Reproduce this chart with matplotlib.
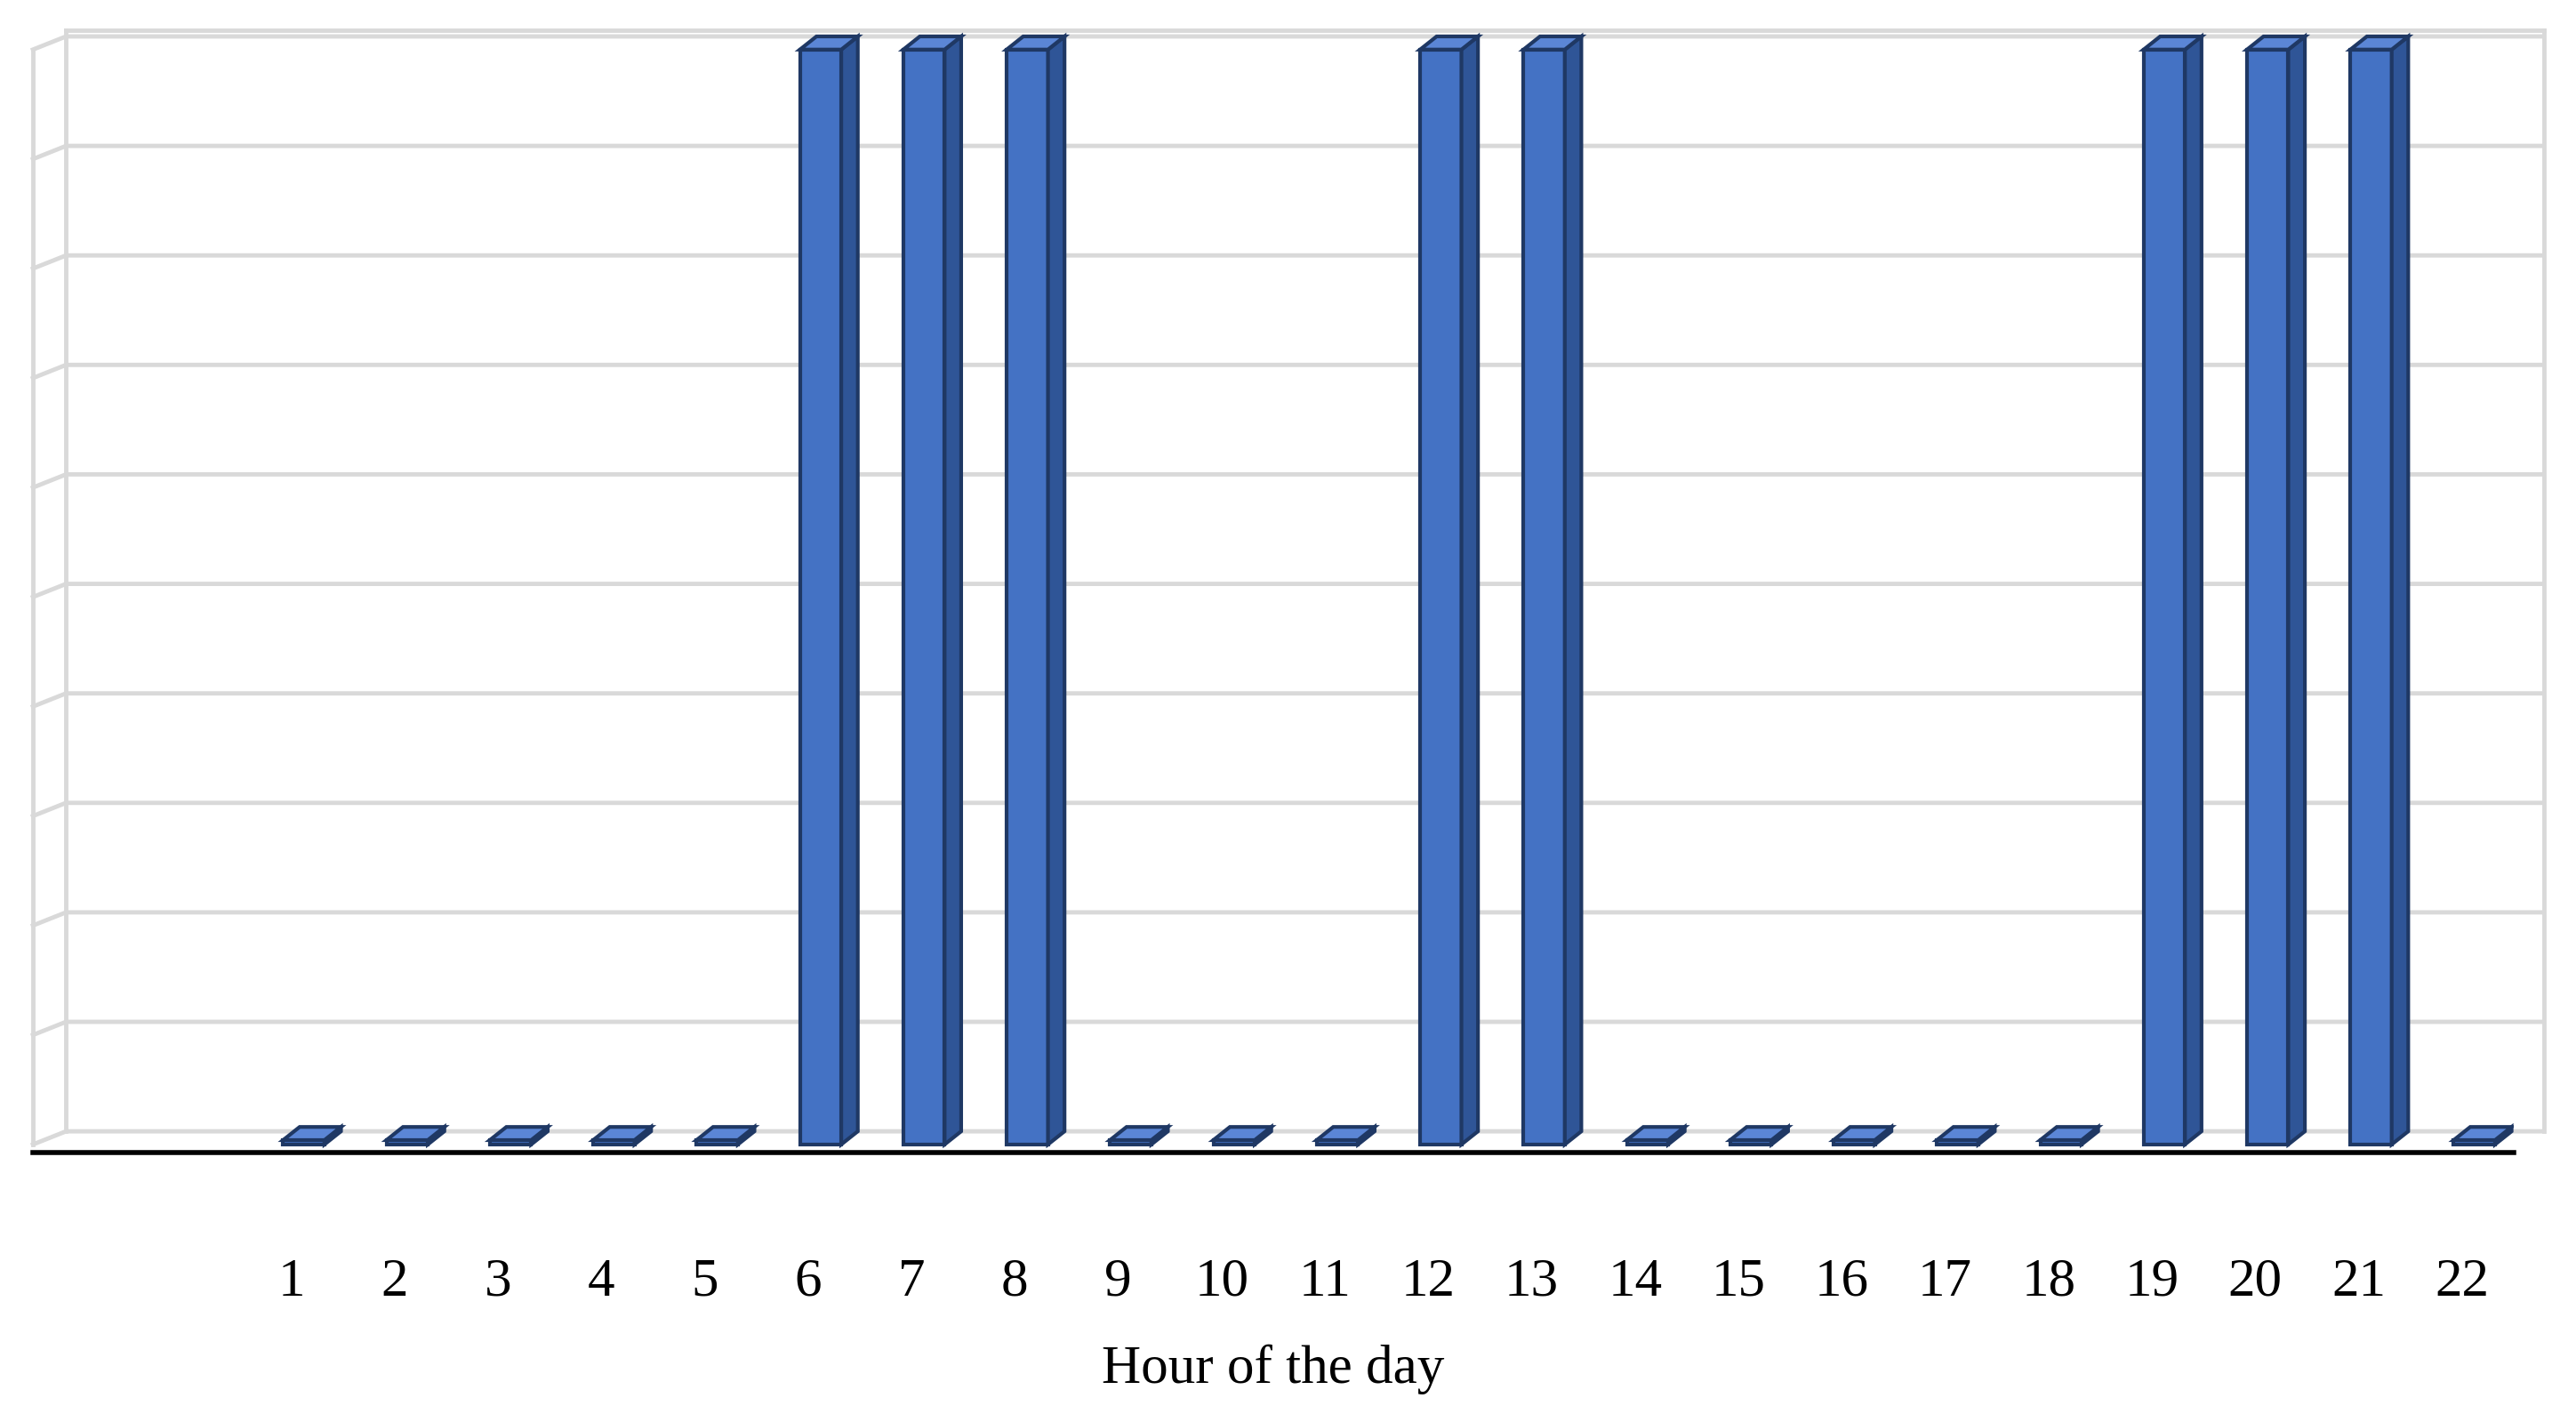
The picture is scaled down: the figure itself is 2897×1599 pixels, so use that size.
import matplotlib
matplotlib.use("Agg")
import matplotlib.pyplot as plt
from matplotlib.patches import Polygon

labels = ["", ""] + [str(h) for h in range(1, 23)]
values = [None, None, 0, 0, 0, 0, 0, 1, 1, 1, 0, 0, 0, 1, 1, 0, 0, 0, 0, 0, 1, 1, 1, 0]

fig = plt.figure(figsize=(28.97, 15.99), dpi=100)
ax = fig.add_axes([0.0128, 0.1894, 0.9630, 0.7896])
ax.set_xlim(-0.5, 23.5)
ax.set_ylim(-0.0075, 1.018)
for s in ax.spines.values():
    s.set_visible(False)
ax.set_yticks([])

dx, dy = 0.16, 0.012
gc = "#d9d9d9"
xl, xr = -0.18, 23.79
for k in range(11):
    y = k / 10
    ax.plot([-0.5, xl, xr], [y, y + dy, y + dy], color=gc, lw=3.5, clip_on=False, zorder=1)
ax.plot([xl, xl], [dy, 1.018], color=gc, lw=3.5, clip_on=False, zorder=1)
ax.plot([-0.5, -0.5], [0, 1.0], color=gc, lw=3.5, clip_on=False, zorder=1)
ax.plot([xr, xr], [dy, 1.018], color=gc, lw=3.5, clip_on=False, zorder=1)
ax.plot([xl, xr], [1.018, 1.018], color=gc, lw=3.5, clip_on=False, zorder=1)

face, edge, side, top = "#4472C4", "#1F3864", "#2F5597", "#5B86D6"
for i, v in enumerate(values):
    if v is None:
        continue
    h = max(v, 0.004)
    x0, x1 = i - 0.08, i + 0.32
    ax.add_patch(Polygon([(x0, 0), (x1, 0), (x1, h), (x0, h)], closed=True,
                         fc=face, ec=edge, lw=3, zorder=3))
    ax.add_patch(Polygon([(x1, 0), (x1 + dx, dy), (x1 + dx, h + dy), (x1, h)], closed=True,
                         fc=side, ec=edge, lw=3, zorder=3))
    ax.add_patch(Polygon([(x0, h), (x1, h), (x1 + dx, h + dy), (x0 + dx, h + dy)], closed=True,
                         fc=top, ec=edge, lw=3, zorder=3))

ax.axhline(-0.0075, color="black", lw=4, zorder=4, clip_on=False)
ax.set_xticks(range(len(labels)))
ax.set_xticklabels(labels, fontsize=44, family=["Liberation Serif", "DejaVu Serif"])
ax.tick_params(axis="x", length=0, pad=85)
ax.set_xlabel("Hour of the day", fontsize=44, family=["Liberation Serif", "DejaVu Serif"], labelpad=30)
fig.savefig("out.png", dpi=100)
